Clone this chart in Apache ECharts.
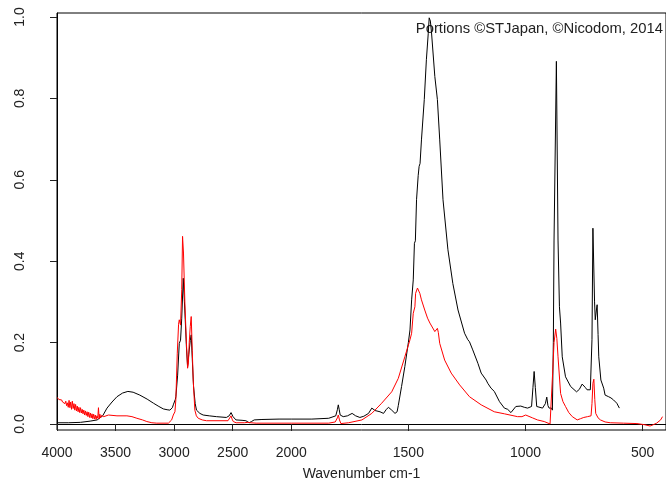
<!DOCTYPE html>
<html>
<head>
<meta charset="utf-8">
<script src="https://cdn.jsdelivr.net/npm/echarts@6/dist/echarts.min.js"></script>
<style>html,body{margin:0;padding:0;background:#fff}#c{width:666px;height:486px}</style>
</head>
<body>
<div id="c"></div>
<script>
// Wavenumbers (cm-1) and absorbance
const blackWn = [4000,3900,3800,3717,3657,3610,3573,3530,3488,3440,3395,3350,3293,3230,3176,3130,3092,3060,3036,3015,3007,2990,2985,2970,2956,2945,2935,2922,2912,2905,2895,2885,2875,2862,2854,2845,2834,2820,2809,2780,2752,2700,2639,2554,2530,2514,2497,2472,2420,2387,2359,2340,2316,2250,2104,2000,1912,1840,1810,1803,1799,1795,1791,1778,1760,1740,1725,1707,1690,1670,1656,1642,1621,1606,1595,1585,1571,1557,1548,1543,1529,1515,1500,1493,1486,1479,1474,1470,1465,1458,1454,1450,1444,1432,1423,1415,1411,1406,1401,1387,1376,1366,1352,1331,1310,1288,1260,1246,1239,1225,1203,1189,1168,1161,1147,1133,1126,1111,1104,1090,1076,1062,1055,1041,1034,1020,1012,1005,991,974,968,963,958,952,927,915,909,904,899,889,885,881,878,868,861,855,850,848,843,829,807,782,770,758,745,737,723,716,712,705,702,696,694,690,687,678,666,660,645,635,624,610,599];
const blackAbs = [0.003,0.003,0.004,0.007,0.010,0.020,0.039,0.054,0.067,0.076,0.080,0.078,0.071,0.061,0.051,0.043,0.037,0.035,0.034,0.040,0.047,0.060,0.067,0.120,0.198,0.206,0.260,0.358,0.300,0.256,0.190,0.141,0.170,0.205,0.219,0.160,0.092,0.050,0.034,0.026,0.022,0.020,0.018,0.016,0.020,0.028,0.018,0.010,0.009,0.008,0.003,0.006,0.010,0.011,0.012,0.012,0.012,0.014,0.020,0.035,0.047,0.035,0.022,0.018,0.020,0.026,0.020,0.016,0.019,0.026,0.039,0.033,0.030,0.026,0.035,0.041,0.034,0.026,0.030,0.045,0.092,0.141,0.200,0.231,0.305,0.354,0.444,0.450,0.551,0.610,0.633,0.640,0.698,0.797,0.895,0.960,0.998,0.990,0.961,0.854,0.797,0.698,0.551,0.428,0.345,0.280,0.223,0.207,0.202,0.182,0.149,0.125,0.108,0.100,0.088,0.080,0.079,0.055,0.051,0.039,0.036,0.028,0.030,0.043,0.044,0.044,0.044,0.041,0.039,0.043,0.090,0.129,0.090,0.043,0.039,0.050,0.066,0.045,0.039,0.039,0.034,0.200,0.452,0.891,0.452,0.288,0.248,0.245,0.165,0.116,0.092,0.079,0.085,0.098,0.090,0.084,0.084,0.207,0.481,0.300,0.256,0.285,0.293,0.220,0.165,0.108,0.088,0.071,0.067,0.064,0.059,0.051,0.039];

const redWn = [4000,3990,3982,3975,3968,3960,3953,3946,3939,3932,3925,3918,3911,3904,3897,3890,3883,3876,3869,3862,3855,3848,3841,3834,3827,3820,3813,3806,3799,3792,3785,3778,3771,3764,3757,3750,3743,3736,3729,3722,3715,3708,3701,3694,3687,3680,3673,3666,3659,3652,3646,3640,3634,3628,3620,3601,3560,3488,3403,3360,3318,3270,3233,3190,3148,3049,3021,3007,2993,2985,2973,2962,2956,2945,2935,2928,2920,2908,2895,2885,2878,2871,2862,2854,2845,2837,2823,2810,2794,2760,2724,2540,2525,2514,2505,2495,2470,2400,2370,2359,2345,2300,2000,1840,1812,1803,1799,1794,1788,1755,1698,1656,1614,1571,1543,1515,1493,1486,1479,1472,1469,1461,1451,1444,1430,1418,1408,1387,1380,1376,1372,1366,1345,1317,1281,1239,1189,1133,1090,1034,1015,999,991,970,949,920,895,890,884,878,871,866,861,850,840,829,815,800,779,765,751,735,720,716,712,708,704,700,690,680,660,638,581,524,490,468,455,440,423,415];
const redAbs = [0.065,0.063,0.060,0.061,0.057,0.059,0.054,0.058,0.052,0.050,0.056,0.045,0.052,0.041,0.058,0.040,0.054,0.036,0.056,0.038,0.050,0.034,0.048,0.032,0.044,0.030,0.041,0.028,0.040,0.027,0.036,0.025,0.034,0.022,0.032,0.021,0.030,0.018,0.029,0.016,0.027,0.015,0.025,0.013,0.024,0.012,0.022,0.011,0.020,0.014,0.040,0.012,0.024,0.015,0.021,0.018,0.022,0.020,0.020,0.018,0.014,0.010,0.006,0.003,0.002,0.002,0.010,0.022,0.030,0.060,0.174,0.245,0.256,0.243,0.330,0.461,0.420,0.297,0.200,0.137,0.150,0.200,0.240,0.264,0.180,0.108,0.034,0.020,0.014,0.010,0.008,0.008,0.012,0.020,0.012,0.006,0.003,0.003,0.004,0.006,0.003,0.002,0.002,0.002,0.005,0.015,0.022,0.010,0.001,0.003,0.010,0.026,0.051,0.079,0.112,0.165,0.207,0.223,0.272,0.288,0.321,0.334,0.321,0.305,0.280,0.260,0.248,0.227,0.228,0.235,0.225,0.198,0.157,0.125,0.096,0.067,0.047,0.030,0.025,0.018,0.018,0.022,0.020,0.015,0.010,0.006,0.000,-0.002,0.125,0.200,0.233,0.210,0.165,0.075,0.055,0.043,0.028,0.018,0.010,0.013,0.016,0.018,0.020,0.050,0.100,0.110,0.060,0.026,0.015,0.010,0.005,0.003,0.002,0.001,-0.002,-0.005,-0.002,0.002,0.010,0.018];

const xTickWn = [4000,3500,3000,2500,2000,1500,1000,500];
const yTicks = [0,0.2,0.4,0.6,0.8,1.0];

// axis scale is compressed by 2 above 2000 cm-1
const T = w => w >= 2000 ? 2000 + (w - 2000) / 2 : w;
const Tinv = s => s >= 2000 ? 2000 + 2 * (s - 2000) : s;

const FONT = "'Liberation Sans', Arial, sans-serif";
const chart = echarts.init(document.getElementById('c'), null, {renderer: 'canvas'});
chart.setOption({
  animation: false,
  backgroundColor: '#fff',
  grid: {left: 57, top: 13, right: -4, bottom: 56, show: true, borderColor: '#000', borderWidth: 1, backgroundColor: 'transparent'},
  xAxis: {
    type: 'value', inverse: true, min: 400, max: 3000,
    axisLine: {show: true, lineStyle: {color: '#000', width: 1}},
    axisTick: {show: true, length: 7, inside: false, customValues: xTickWn.map(T), lineStyle: {color: '#222'}},
    axisLabel: {show: true, margin: 16, customValues: xTickWn.map(T), formatter: v => String(Math.round(Tinv(v))), color: '#222', fontSize: 14, fontFamily: FONT},
    splitLine: {show: false},
    name: 'Wavenumber cm-1', nameLocation: 'middle', nameGap: 37,
    nameTextStyle: {color: '#222', fontSize: 14, fontFamily: FONT}
  },
  yAxis: {
    type: 'value', min: -0.0148, max: 1.0098,
    axisLine: {show: true, lineStyle: {color: '#000', width: 1}},
    axisTick: {show: true, length: 7, inside: false, customValues: yTicks, lineStyle: {color: '#222'}},
    axisLabel: {show: true, rotate: 90, margin: 30, customValues: yTicks, formatter: v => v.toFixed(1), color: '#222', fontSize: 14, fontFamily: FONT},
    splitLine: {show: false}
  },
  graphic: [{
    type: 'text', right: 3, top: 21,
    style: {text: 'Portions \u00A9STJapan, \u00A9Nicodom, 2014', font: '14.8px ' + FONT, fill: '#222'}
  }],
  series: [
    {type: 'line', data: blackWn.map((w, i) => [T(w), blackAbs[i]]), showSymbol: false, lineStyle: {color: '#000', width: 1}, itemStyle: {color: '#000'}, clip: true},
    {type: 'line', data: redWn.map((w, i) => [T(w), redAbs[i]]), showSymbol: false, lineStyle: {color: '#ff0000', width: 1}, itemStyle: {color: '#ff0000'}, clip: true}
  ]
});
</script>
</body>
</html>
